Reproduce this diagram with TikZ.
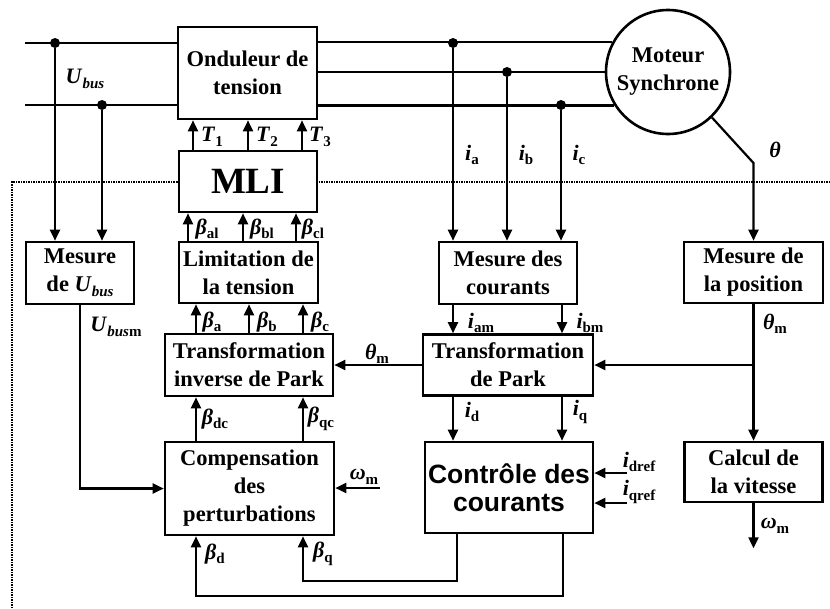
\documentclass[tikz,border=0pt]{standalone}
\usepackage{fontspec}
\setmainfont{Liberation Serif}
\newfontfamily\arialfont{Liberation Sans}
\usetikzlibrary{arrows.meta, positioning, calc}
\newcommand{\idx}[1]{\raisebox{-0.45ex}{\fontsize{15}{15}\selectfont\bfseries #1}}
\newcommand{\sym}[1]{\textbf{\textit{#1}}}

\begin{document}
\begin{tikzpicture}[x=1pt, y=-1pt,
    box/.style={rectangle, draw, line width=2.6pt, fill=white, align=center,
                font=\fontsize{22.5}{28}\selectfont\bfseries, inner sep=0pt},
    arr/.style={-{Triangle[length=11pt, width=10pt]}, line width=2.2pt},
    wire/.style={line width=2.2pt},
    dot/.style={circle, fill, inner sep=0pt, minimum size=10pt},
    lbl/.style={font=\fontsize{22}{22}\selectfont, inner sep=0pt}
]
    \useasboundingbox (0,0) rectangle (830,608);
    % cadre pointille
    \draw[densely dotted, line width=1.5pt] (830,182) -- (12,182) -- (12,608);

    % blocs
    \node[box, minimum width=139, minimum height=92] (ond)   at (247.5,73)  {Onduleur de\\tension};
    \node[box, minimum width=138, minimum height=61,
          font=\fontsize{37}{37}\selectfont\bfseries] (mli) at (248,181.5) {MLI};
    \node[box, minimum width=139, minimum height=61] (lim)   at (248.5,272.5) {Limitation de\\la tension};
    \node[box, minimum width=168, minimum height=62] (tip)   at (249,365)   {Transformation\\inverse de Park};
    \node[box, minimum width=169, minimum height=93] (comp)  at (249.5,488.5) {Compensation\\des\\perturbations};
    \node[box, minimum width=108, minimum height=62] (mub)   at (80,273)    {Mesure\\de \sym{U}\idx{\textit{bus}}};
    \node[box, minimum width=138, minimum height=62] (mcour) at (508,273)   {Mesure des\\courants};
    \node[box, minimum width=170, minimum height=61] (park)  at (508,365)   {Transformation\\de Park};
    \node[box, minimum width=168, minimum height=91,
          font=\fontsize{26.5}{28}\selectfont\arialfont\bfseries] (ctrl) at (509,487.5) {Contrôle des\\courants};
    \node[box, minimum width=139, minimum height=61] (mpos)  at (753.5,272.5) {Mesure de\\la position};
    \node[box, minimum width=138, minimum height=60] (calc)  at (753.5,472) {Calcul de\\la vitesse};
    \node[box, circle, minimum size=124] (mot) at (668,72) {Moteur\\Synchrone};

    % bus continu et phases
    \coordinate (bp) at (25,43);
    \coordinate (bn) at (25,105);
    \draw[wire] (bp) -- (bp -| ond.west);
    \draw[wire] (bn) -- (bn -| ond.west);
    \draw[wire] (ond.east |- mot.152) -- (mot.152);
    \draw[wire] (ond.east |- mot.180) -- (mot.180);
    \draw[wire] (ond.east |- mot.212) -- (mot.212);
    \node[dot] (dp) at (55,43) {};
    \node[dot] (dn) at (102,105) {};
    \node[dot] (da) at (453,43) {};
    \node[dot] (db) at (507,72) {};
    \node[dot] (dc) at (561,105) {};
    \draw[arr] (dp) -- (dp |- mub.north);
    \draw[arr] (dn) -- (dn |- mub.north);
    \draw[arr] (da) -- (da |- mcour.north);
    \draw[arr] (db) -- (db |- mcour.north);
    \draw[arr] (dc) -- (dc |- mcour.north);

    % chaine de commande
    \foreach \dx in {-55,0,54}
        \draw[arr] ([xshift=\dx pt]mli.north) -- ([xshift=\dx pt]mli.north |- ond.south);
    \foreach \dx in {-60.5,-5.5,47.5}
        \draw[arr] ([xshift=\dx pt]lim.north) -- ([xshift=\dx pt]lim.north |- mli.south);
    \foreach \dx in {-53,0,54}
        \draw[arr] ([xshift=\dx pt]tip.north) -- ([xshift=\dx pt]tip.north |- lim.south);
    \foreach \dx in {-53.5,53.5}
        \draw[arr] ([xshift=\dx pt]comp.north) -- ([xshift=\dx pt]comp.north |- tip.south);
    \foreach \dx in {-55,54} {
        \draw[arr] ([xshift=\dx pt]mcour.south) -- ([xshift=\dx pt]mcour.south |- park.north);
        \draw[arr] ([xshift=\dx pt]park.south) -- ([xshift=\dx pt]park.south |- ctrl.north);
    }
    \draw[arr] (mub.south) |- (comp.west);
    \draw[arr] (park.west) -- (tip.east);
    \draw[arr] ([xshift=54pt]ctrl.south) -- ++(0,62) -| ([xshift=-53.5pt]comp.south);
    \draw[arr] ([xshift=-52pt]ctrl.south) -- ++(0,47) -| ([xshift=53.5pt]comp.south);

    % position et vitesse
    \coordinate (kink) at (753.5,163);
    \draw[arr] (mot.314) -- (kink) -- (mpos.north);
    \draw[arr] (mpos.south) -- (calc.north);
    \draw[arr] (mpos.south |- park.east) -- (park.east);
    \draw[arr] (calc.south) -- ++(0,45);
    \coordinate (wm) at (380,488);
    \draw[arr] (wm) -- (wm -| comp.east);
    \coordinate (idr) at (627,473);
    \coordinate (iqr) at (627,503);
    \draw[arr] (idr) -- (idr -| ctrl.east);
    \draw[arr] (iqr) -- (iqr -| ctrl.east);

    % etiquettes
    \node[lbl] (lubus)  at (85,79)   {\sym{U}\idx{\textit{bus}}};
    \node[lbl] (lubusm) at (116,327) {\sym{U}\idx{\textit{bus}m}};
    \node[lbl] (lt1) at (212,137) {\sym{T}\idx{1}};
    \node[lbl] (lt2) at (267,137) {\sym{T}\idx{2}};
    \node[lbl] (lt3) at (320,137) {\sym{T}\idx{3}};
    \node[lbl] (lbal) at (207,229) {\sym{β}\idx{al}};
    \node[lbl] (lbbl) at (262,229) {\sym{β}\idx{bl}};
    \node[lbl] (lbcl) at (313,229) {\sym{β}\idx{cl}};
    \node[lbl] (lba) at (212,322) {\sym{β}\idx{a}};
    \node[lbl] (lbb) at (267,322) {\sym{β}\idx{b}};
    \node[lbl] (lbc) at (320,322) {\sym{β}\idx{c}};
    \node[lbl] (lthl) at (377,354) {\sym{θ}\idx{m}};
    \node[lbl] (lbdc) at (215,419) {\sym{β}\idx{dc}};
    \node[lbl] (lbqc) at (321,419) {\sym{β}\idx{qc}};
    \node[lbl] (lwl) at (364,477) {\sym{ω}\idx{m}};
    \node[lbl] (lbd) at (215,554) {\sym{β}\idx{d}};
    \node[lbl] (lbq) at (323,554) {\sym{β}\idx{q}};
    \node[lbl] (lia) at (472,155) {\sym{i}\idx{a}};
    \node[lbl] (lib) at (526,155) {\sym{i}\idx{b}};
    \node[lbl] (lic) at (579,155) {\sym{i}\idx{c}};
    \node[lbl] (lth) at (775,150) {\sym{θ}};
    \node[lbl] (liam) at (481,323) {\sym{i}\idx{am}};
    \node[lbl] (libm) at (590,323) {\sym{i}\idx{bm}};
    \node[lbl] (lthr) at (775,324) {\sym{θ}\idx{m}};
    \node[lbl] (lid) at (472,412) {\sym{i}\idx{d}};
    \node[lbl] (liq) at (580,412) {\sym{i}\idx{q}};
    \node[lbl] (lidr) at (639,462) {\sym{i}\idx{dref}};
    \node[lbl] (liqr) at (639,492) {\sym{i}\idx{qref}};
    \node[lbl] (lwr) at (775,526) {\sym{ω}\idx{m}};
\end{tikzpicture}
\end{document}
